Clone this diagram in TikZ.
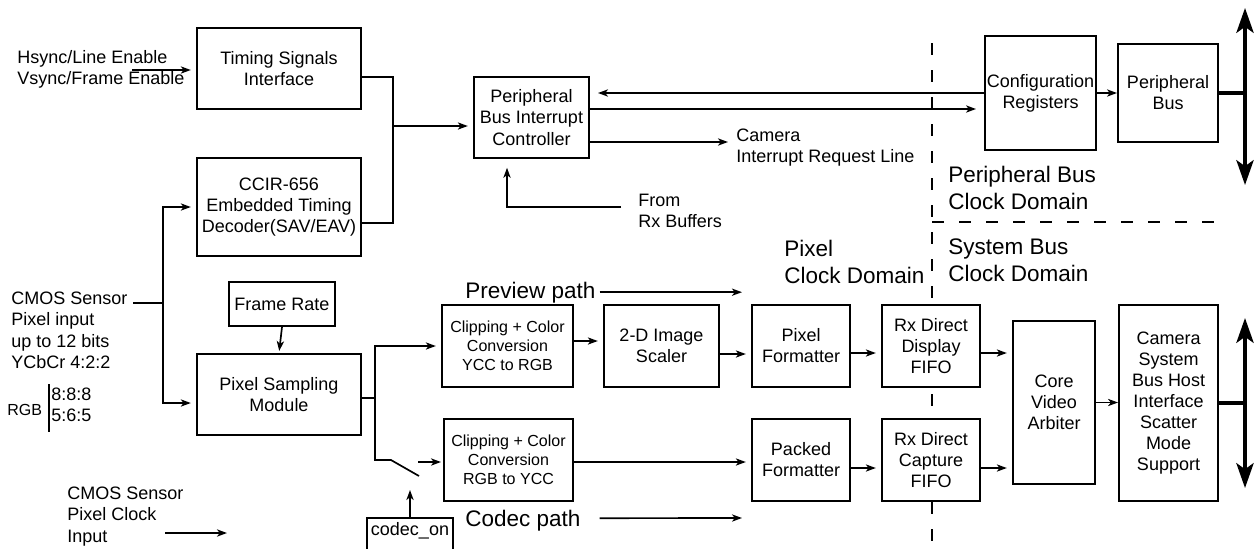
\documentclass[tikz,border=0pt]{standalone}
\usepackage{fontspec}
\setmainfont{Liberation Sans}
\usetikzlibrary{arrows.meta,calc}
\newcommand{\pxu}{0.025cm}
\newcommand{\nrm}{\fontsize{12.8}{15}\selectfont}
\newcommand{\sml}{\fontsize{11.4}{13.5}\selectfont}
\newcommand{\lrg}{\fontsize{16}{19}\selectfont}

\begin{document}
\begin{tikzpicture}[x=0.025cm,y=-0.025cm,
  blk/.style={draw,line width=1.4pt,fill=white,align=center,inner sep=1pt,font=\nrm},
  bx/.style 2 args={blk,minimum width=#1*\pxu,minimum height=#2*\pxu},
  lbl/.style={inner sep=0pt,align=left,font=\nrm},
  ln/.style={line width=1.2pt},
  arr/.style={ln,shorten >=0.13cm,-{Stealth[length=0.25cm,width=0.18cm,inset=0.07cm]}},
  bus/.style={line width=0.09cm,{Stealth[length=0.62cm,width=0.43cm,inset=0.15cm]}-{Stealth[length=0.62cm,width=0.43cm,inset=0.15cm]}},
  dsh/.style={line width=1pt,dash pattern=on 0.3cm off 0.375cm}]
\useasboundingbox (0,0) rectangle (1255,548);
\draw[dsh] (932,43)--(932,548);
\draw[dsh] (932,222)--(1225,222);

\node[bx={164}{81}] (tsi) at (279,68.5) {Timing Signals\\Interface};
\node[bx={164}{98}] (ccir) at (279,207) {CCIR-656\\Embedded Timing\\Decoder(SAV/EAV)};
\node[bx={115}{81}] (pbic) at (531.5,117.5) {Peripheral\\Bus Interrupt\\Controller};
\node[bx={111}{114}] (cfg) at (1040.5,93) {Configuration\\Registers};
\node[bx={100}{98}] (pbus) at (1168,93) {Peripheral\\Bus};
\node[bx={106}{44}] (frate) at (282,304) {Frame Rate};
\node[bx={164}{81}] (psm) at (279,394.5) {Pixel Sampling\\Module};
\node[bx={131}{82},font=\sml] (clip1) at (507.5,346) {Clipping + Color\\Conversion\\YCC to RGB};
\node[bx={129}{82},font=\sml] (clip2) at (508.5,460) {Clipping + Color\\Conversion\\RGB to YCC};
\node[bx={115}{82}] (scaler) at (661.5,346) {2-D Image\\Scaler};
\node[bx={98}{82}] (pfmt) at (801,346) {Pixel\\Formatter};
\node[bx={98}{82}] (pkfmt) at (801,460) {Packed\\Formatter};
\node[bx={98}{82}] (rxd) at (931,346) {Rx Direct\\Display\\FIFO};
\node[bx={98}{82}] (rxc) at (931,460) {Rx Direct\\Capture\\FIFO};
\node[bx={82}{163}] (cva) at (1054,402.5) {Core\\Video\\Arbiter};
\node[bx={99}{196}] (csb) at (1168.5,403) {Camera\\System\\Bus Host\\Interface\\Scatter\\Mode\\Support};
\node[draw,line width=1.4pt,anchor=north,font=\nrm,inner xsep=4*\pxu,inner ysep=5*\pxu,text height=13*\pxu,text depth=30*\pxu] (codec) at (410,517) {codec\_on};

\node[lbl,anchor=north west] (hs) at (17,50) {Hsync/Line Enable\\Vsync/Frame Enable};
\node[lbl,anchor=north west] (cmos) at (11,292) {CMOS Sensor\\Pixel input\\up to 12 bits\\YCbCr 4:2:2};
\node[lbl,font=\sml,anchor=base west] (rgb) at (7,415) {RGB};
\node[lbl,anchor=north west] (bits) at (51,388) {8:8:8\\5:6:5};
\node[lbl,anchor=north west] (clk) at (67,487) {CMOS Sensor\\Pixel Clock\\Input};
\node[lbl,anchor=north west] (cam) at (736,129) {Camera\\Interrupt Request Line};
\node[lbl,anchor=north west] (rxb) at (638,194) {From\\Rx Buffers};
\node[lbl,font=\lrg,anchor=north west] (pxdom) at (784,240) {Pixel\\Clock Domain};
\node[lbl,font=\lrg,anchor=north west] (pbdom) at (948,166) {Peripheral Bus\\Clock Domain};
\node[lbl,font=\lrg,anchor=north west] (sbdom) at (948,239) {System Bus\\Clock Domain};
\node[lbl,font=\lrg,anchor=base west] (prev) at (465,298) {Preview path};
\node[lbl,font=\lrg,anchor=base west] (cdc) at (465,526) {Codec path};

\coordinate (hsin) at (132,70);
\coordinate (jn) at (393,126);
\coordinate (cmin) at (133,303);
\coordinate (jc) at (163,303);
\coordinate (sw) at (375,398);
\coordinate (swa) at (391,460);
\coordinate (swb) at (419,476);
\coordinate (swo) at (418,462);
\coordinate (swc) at (410,490);
\coordinate (ckin) at (165,533);
\coordinate (ckout) at (227,533);
\coordinate (rxbin) at (621,207);
\coordinate (pvend) at (742,292);
\coordinate (cdend) at (742,518);
\coordinate (pbt) at (1245,8);
\coordinate (pbb) at (1245,185);
\coordinate (sbt) at (1245,318);
\coordinate (sbb) at (1245,488);
\coordinate (pbo1) at ($(pbic.east)+(0,-8.5)$);
\coordinate (pbo2) at ($(pbic.east)+(0,24.5)$);
\coordinate (rxo1) at ($(rxd.east)+(0,7)$);
\coordinate (rxo2) at ($(rxc.east)+(0,8)$);

\draw[arr] (hsin)--(hsin-|tsi.west);
\draw[ln] ($(tsi.east)+(0,8.5)$)-|(jn);
\draw[ln] ($(ccir.east)+(0,16)$)-|(jn);
\draw[arr] (jn)--(jn-|pbic.west);
\draw[ln] (cmin)--(jc);
\draw[arr] (jc)|-(ccir.west);
\draw[arr] (jc)|-($(psm.west)+(0,8.5)$);
\draw[arr,shorten >=0.05cm] (frate.south)--(psm.north);
\draw[ln] ($(psm.east)+(0,3.5)$)--(sw);
\draw[arr] (sw)|-(clip1.west);
\draw[ln] (sw)|-(swa)--(swb);
\draw[arr,shorten >=0.05cm] (swo)--(swo-|clip2.west);
\draw[arr,shorten >=0pt] (codec.north)--(swc);
\draw[arr,shorten >=0pt] (ckin)--(ckout);
\draw[arr] ($(clip1.east)+(0,-5)$)--($(scaler.west)+(0,-5)$);
\draw[arr] ($(scaler.east)+(0,8)$)--($(pfmt.west)+(0,8)$);
\draw[arr] ($(clip2.east)+(0,2)$)--($(pkfmt.west)+(0,2)$);
\draw[arr] ($(pfmt.east)+(0,7)$)--($(rxd.west)+(0,7)$);
\draw[arr] ($(pkfmt.east)+(0,8)$)--($(rxc.west)+(0,8)$);
\draw[arr] (rxo1)--(rxo1-|cva.west);
\draw[arr] (rxo2)--(rxo2-|cva.west);
\draw[arr,shorten >=0pt] (cva.east)--(cva.east-|csb.west);
\draw[arr,shorten >=0pt] (cfg.east)--(pbus.west);
\draw[arr,shorten >=0.2cm] (cfg.west)--(cfg.west-|pbic.east);
\draw[arr,shorten >=0.2cm] (pbo1)--(pbo1-|cfg.west);
\draw[arr,shorten >=0.2cm] (pbo2)--(pbo2-|cam.west);
\draw[arr,shorten >=0.22cm] (rxbin)-|($(pbic.south)+(-24.5,0)$);
\draw[arr,shorten >=0pt] ($(prev.east)+(4,0)$)--(prev.east-|pvend);
\draw[arr,shorten >=0pt] ($(cdc.east)+(19,-2)$)--(cdend);
\draw[line width=0.09cm] (pbus.east)--(pbus.east-|pbt);
\draw[line width=0.09cm] (csb.east)--(csb.east-|sbt);
\draw[bus] (pbt)--(pbb);
\draw[bus] (sbt)--(sbb);
\draw[line width=1pt] ($(bits.north west)+(-2,-4)$)--++(0,48);
\end{tikzpicture}
\end{document}
